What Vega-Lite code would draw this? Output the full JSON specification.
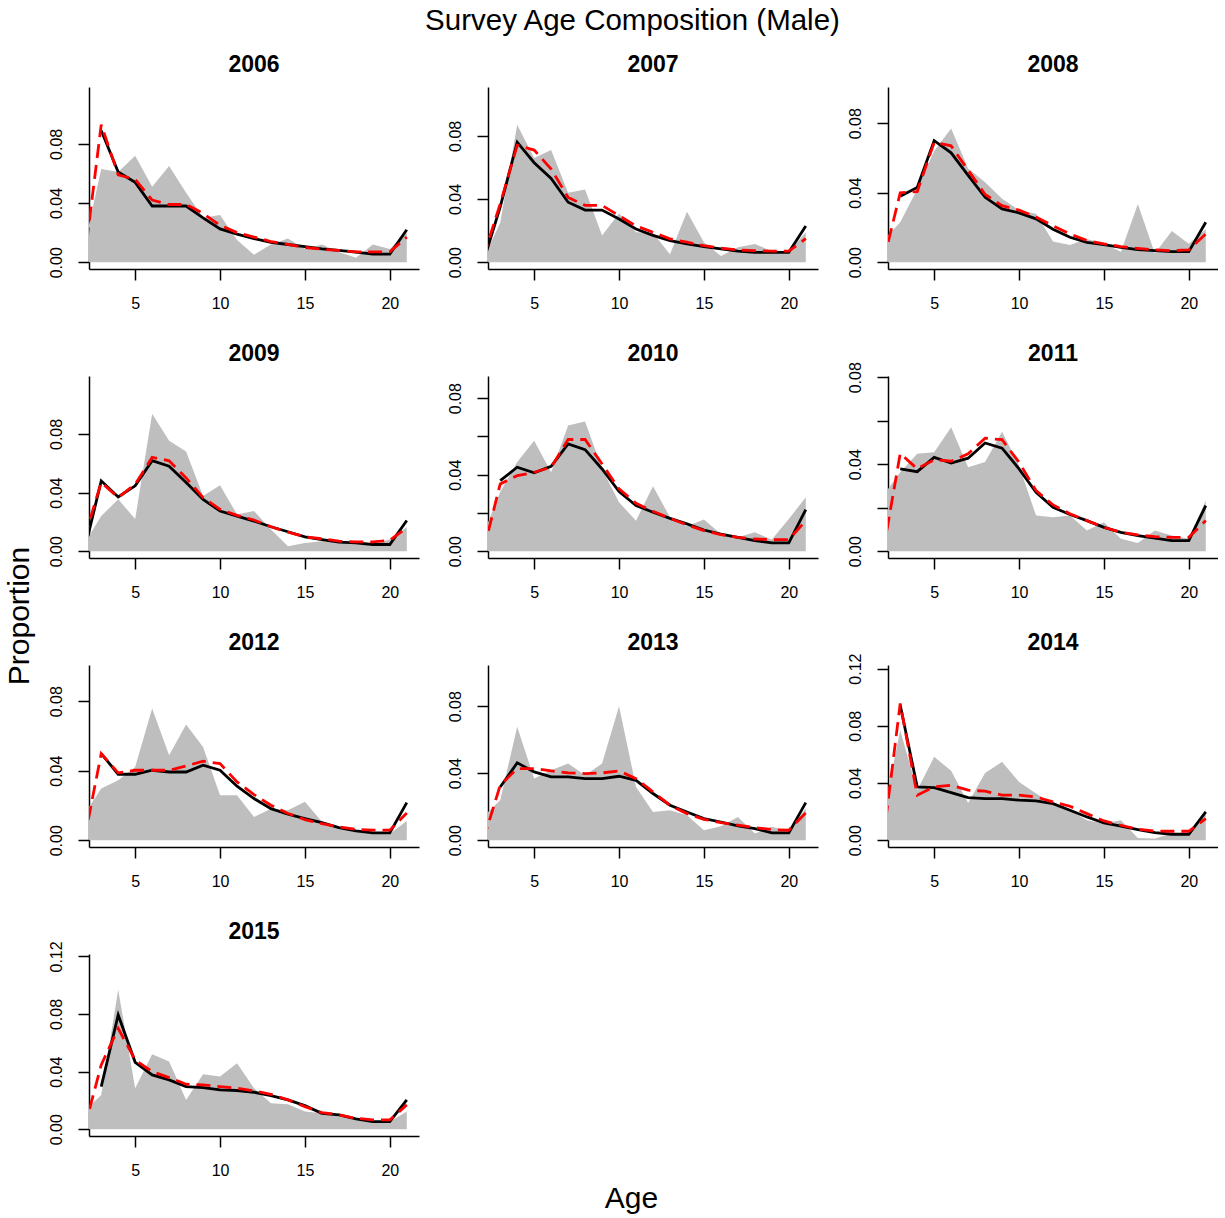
{
  "$schema": "https://vega.github.io/schema/vega-lite/v6.json",
  "background": "white",
  "padding": {"left": 5, "top": 5, "right": 0, "bottom": 0},
  "title": {"text": "Survey Age Composition (Male)", "fontSize": 29.5, "fontWeight": "normal", "font": "Liberation Sans", "color": "black", "anchor": "middle", "offset": 18, "dx": 21},
  "datasets": {
    "comp": [
      {"year": 2006, "age": 2, "obs": 0.011, "pred": null, "alt": 0.0},
      {"year": 2006, "age": 3, "obs": 0.063, "pred": 0.089, "alt": 0.093},
      {"year": 2006, "age": 4, "obs": 0.061, "pred": 0.061, "alt": 0.059},
      {"year": 2006, "age": 5, "obs": 0.072, "pred": 0.054, "alt": 0.056},
      {"year": 2006, "age": 6, "obs": 0.051, "pred": 0.038, "alt": 0.042},
      {"year": 2006, "age": 7, "obs": 0.065, "pred": 0.038, "alt": 0.039},
      {"year": 2006, "age": 8, "obs": 0.047, "pred": 0.038, "alt": 0.039},
      {"year": 2006, "age": 9, "obs": 0.030, "pred": 0.030, "alt": 0.033},
      {"year": 2006, "age": 10, "obs": 0.032, "pred": 0.0225, "alt": 0.025},
      {"year": 2006, "age": 11, "obs": 0.015, "pred": 0.019, "alt": 0.020},
      {"year": 2006, "age": 12, "obs": 0.005, "pred": 0.016, "alt": 0.017},
      {"year": 2006, "age": 13, "obs": 0.012, "pred": 0.0135, "alt": 0.014},
      {"year": 2006, "age": 14, "obs": 0.016, "pred": 0.012, "alt": 0.012},
      {"year": 2006, "age": 15, "obs": 0.009, "pred": 0.0105, "alt": 0.010},
      {"year": 2006, "age": 16, "obs": 0.012, "pred": 0.009, "alt": 0.0088},
      {"year": 2006, "age": 17, "obs": 0.007, "pred": 0.008, "alt": 0.008},
      {"year": 2006, "age": 18, "obs": 0.003, "pred": 0.0068, "alt": 0.007},
      {"year": 2006, "age": 19, "obs": 0.012, "pred": 0.0055, "alt": 0.007},
      {"year": 2006, "age": 20, "obs": 0.009, "pred": 0.0055, "alt": 0.007},
      {"year": 2006, "age": 21, "obs": 0.020, "pred": 0.022, "alt": 0.017},

      {"year": 2007, "age": 2, "obs": 0.002, "pred": 0.0, "alt": 0.003},
      {"year": 2007, "age": 3, "obs": 0.025, "pred": 0.035, "alt": 0.037},
      {"year": 2007, "age": 4, "obs": 0.087, "pred": 0.076, "alt": 0.074},
      {"year": 2007, "age": 5, "obs": 0.066, "pred": 0.063, "alt": 0.071},
      {"year": 2007, "age": 6, "obs": 0.071, "pred": 0.053, "alt": 0.059},
      {"year": 2007, "age": 7, "obs": 0.044, "pred": 0.038, "alt": 0.041},
      {"year": 2007, "age": 8, "obs": 0.046, "pred": 0.033, "alt": 0.036},
      {"year": 2007, "age": 9, "obs": 0.017, "pred": 0.033, "alt": 0.036},
      {"year": 2007, "age": 10, "obs": 0.031, "pred": 0.0274, "alt": 0.0295},
      {"year": 2007, "age": 11, "obs": 0.019, "pred": 0.021, "alt": 0.023},
      {"year": 2007, "age": 12, "obs": 0.0185, "pred": 0.017, "alt": 0.019},
      {"year": 2007, "age": 13, "obs": 0.005, "pred": 0.0137, "alt": 0.0148},
      {"year": 2007, "age": 14, "obs": 0.032, "pred": 0.0116, "alt": 0.0127},
      {"year": 2007, "age": 15, "obs": 0.0127, "pred": 0.0099, "alt": 0.0105},
      {"year": 2007, "age": 16, "obs": 0.004, "pred": 0.0084, "alt": 0.0089},
      {"year": 2007, "age": 17, "obs": 0.0095, "pred": 0.007, "alt": 0.0078},
      {"year": 2007, "age": 18, "obs": 0.0116, "pred": 0.0063, "alt": 0.0074},
      {"year": 2007, "age": 19, "obs": 0.007, "pred": 0.0063, "alt": 0.007},
      {"year": 2007, "age": 20, "obs": 0.0063, "pred": 0.0063, "alt": 0.007},
      {"year": 2007, "age": 21, "obs": 0.019, "pred": 0.023, "alt": 0.015},

      {"year": 2008, "age": 2, "obs": 0.0125, "pred": null, "alt": 0.0},
      {"year": 2008, "age": 3, "obs": 0.023, "pred": 0.038, "alt": 0.040},
      {"year": 2008, "age": 4, "obs": 0.042, "pred": 0.043, "alt": 0.0407},
      {"year": 2008, "age": 5, "obs": 0.064, "pred": 0.070, "alt": 0.069},
      {"year": 2008, "age": 6, "obs": 0.077, "pred": 0.063, "alt": 0.067},
      {"year": 2008, "age": 7, "obs": 0.054, "pred": 0.050, "alt": 0.053},
      {"year": 2008, "age": 8, "obs": 0.046, "pred": 0.0374, "alt": 0.039},
      {"year": 2008, "age": 9, "obs": 0.0365, "pred": 0.0307, "alt": 0.0326},
      {"year": 2008, "age": 10, "obs": 0.030, "pred": 0.0284, "alt": 0.030},
      {"year": 2008, "age": 11, "obs": 0.028, "pred": 0.025, "alt": 0.026},
      {"year": 2008, "age": 12, "obs": 0.012, "pred": 0.019, "alt": 0.021},
      {"year": 2008, "age": 13, "obs": 0.010, "pred": 0.0144, "alt": 0.0163},
      {"year": 2008, "age": 14, "obs": 0.0134, "pred": 0.0115, "alt": 0.0125},
      {"year": 2008, "age": 15, "obs": 0.0106, "pred": 0.0102, "alt": 0.0106},
      {"year": 2008, "age": 16, "obs": 0.006, "pred": 0.0086, "alt": 0.009},
      {"year": 2008, "age": 17, "obs": 0.0336, "pred": 0.0073, "alt": 0.008},
      {"year": 2008, "age": 18, "obs": 0.005, "pred": 0.0067, "alt": 0.0071},
      {"year": 2008, "age": 19, "obs": 0.018, "pred": 0.0061, "alt": 0.0067},
      {"year": 2008, "age": 20, "obs": 0.0106, "pred": 0.0061, "alt": 0.0071},
      {"year": 2008, "age": 21, "obs": 0.019, "pred": 0.023, "alt": 0.0163},

      {"year": 2009, "age": 2, "obs": 0.005, "pred": 0.0, "alt": 0.0086},
      {"year": 2009, "age": 3, "obs": 0.024, "pred": 0.048, "alt": 0.047},
      {"year": 2009, "age": 4, "obs": 0.0354, "pred": 0.037, "alt": 0.0366},
      {"year": 2009, "age": 5, "obs": 0.022, "pred": 0.0446, "alt": 0.0457},
      {"year": 2009, "age": 6, "obs": 0.0937, "pred": 0.0617, "alt": 0.064},
      {"year": 2009, "age": 7, "obs": 0.0754, "pred": 0.058, "alt": 0.0617},
      {"year": 2009, "age": 8, "obs": 0.068, "pred": 0.0469, "alt": 0.050},
      {"year": 2009, "age": 9, "obs": 0.0377, "pred": 0.0354, "alt": 0.0366},
      {"year": 2009, "age": 10, "obs": 0.045, "pred": 0.0274, "alt": 0.0286},
      {"year": 2009, "age": 11, "obs": 0.025, "pred": 0.024, "alt": 0.0245},
      {"year": 2009, "age": 12, "obs": 0.0274, "pred": 0.0206, "alt": 0.0213},
      {"year": 2009, "age": 13, "obs": 0.0149, "pred": 0.0167, "alt": 0.0167},
      {"year": 2009, "age": 14, "obs": 0.0034, "pred": 0.0133, "alt": 0.013},
      {"year": 2009, "age": 15, "obs": 0.0057, "pred": 0.0098, "alt": 0.0098},
      {"year": 2009, "age": 16, "obs": 0.0069, "pred": 0.008, "alt": 0.0085},
      {"year": 2009, "age": 17, "obs": 0.006, "pred": 0.0062, "alt": 0.0069},
      {"year": 2009, "age": 18, "obs": 0.0069, "pred": 0.0057, "alt": 0.0064},
      {"year": 2009, "age": 19, "obs": 0.0046, "pred": 0.0046, "alt": 0.0064},
      {"year": 2009, "age": 20, "obs": 0.008, "pred": 0.0046, "alt": 0.0075},
      {"year": 2009, "age": 21, "obs": 0.0165, "pred": 0.021, "alt": 0.016},

      {"year": 2010, "age": 2, "obs": 0.0088, "pred": null, "alt": 0.0},
      {"year": 2010, "age": 3, "obs": 0.031, "pred": 0.0369, "alt": 0.0352},
      {"year": 2010, "age": 4, "obs": 0.0467, "pred": 0.0439, "alt": 0.0395},
      {"year": 2010, "age": 5, "obs": 0.0578, "pred": 0.041, "alt": 0.0413},
      {"year": 2010, "age": 6, "obs": 0.0413, "pred": 0.0444, "alt": 0.0439},
      {"year": 2010, "age": 7, "obs": 0.0657, "pred": 0.0561, "alt": 0.0584},
      {"year": 2010, "age": 8, "obs": 0.0678, "pred": 0.0531, "alt": 0.0584},
      {"year": 2010, "age": 9, "obs": 0.043, "pred": 0.043, "alt": 0.0456},
      {"year": 2010, "age": 10, "obs": 0.0256, "pred": 0.0312, "alt": 0.0326},
      {"year": 2010, "age": 11, "obs": 0.016, "pred": 0.0239, "alt": 0.0251},
      {"year": 2010, "age": 12, "obs": 0.034, "pred": 0.0204, "alt": 0.0209},
      {"year": 2010, "age": 13, "obs": 0.0178, "pred": 0.0172, "alt": 0.0172},
      {"year": 2010, "age": 14, "obs": 0.0131, "pred": 0.0143, "alt": 0.0138},
      {"year": 2010, "age": 15, "obs": 0.0166, "pred": 0.0111, "alt": 0.0108},
      {"year": 2010, "age": 16, "obs": 0.009, "pred": 0.009, "alt": 0.0087},
      {"year": 2010, "age": 17, "obs": 0.0073, "pred": 0.0073, "alt": 0.0073},
      {"year": 2010, "age": 18, "obs": 0.0099, "pred": 0.0056, "alt": 0.0064},
      {"year": 2010, "age": 19, "obs": 0.0061, "pred": 0.0044, "alt": 0.0061},
      {"year": 2010, "age": 20, "obs": 0.0169, "pred": 0.0044, "alt": 0.0061},
      {"year": 2010, "age": 21, "obs": 0.0282, "pred": 0.0218, "alt": 0.016},

      {"year": 2011, "age": 2, "obs": 0.0257, "pred": null, "alt": 0.0},
      {"year": 2011, "age": 3, "obs": 0.0363, "pred": 0.0379, "alt": 0.045},
      {"year": 2011, "age": 4, "obs": 0.0448, "pred": 0.0366, "alt": 0.0379},
      {"year": 2011, "age": 5, "obs": 0.0455, "pred": 0.0432, "alt": 0.0421},
      {"year": 2011, "age": 6, "obs": 0.057, "pred": 0.0406, "alt": 0.0414},
      {"year": 2011, "age": 7, "obs": 0.0386, "pred": 0.0428, "alt": 0.0448},
      {"year": 2011, "age": 8, "obs": 0.041, "pred": 0.0498, "alt": 0.052},
      {"year": 2011, "age": 9, "obs": 0.055, "pred": 0.0474, "alt": 0.0513},
      {"year": 2011, "age": 10, "obs": 0.0394, "pred": 0.0379, "alt": 0.0409},
      {"year": 2011, "age": 11, "obs": 0.0164, "pred": 0.0271, "alt": 0.0279},
      {"year": 2011, "age": 12, "obs": 0.0156, "pred": 0.0202, "alt": 0.0213},
      {"year": 2011, "age": 13, "obs": 0.0164, "pred": 0.0169, "alt": 0.0172},
      {"year": 2011, "age": 14, "obs": 0.0095, "pred": 0.0141, "alt": 0.0141},
      {"year": 2011, "age": 15, "obs": 0.0133, "pred": 0.011, "alt": 0.011},
      {"year": 2011, "age": 16, "obs": 0.0057, "pred": 0.0087, "alt": 0.0087},
      {"year": 2011, "age": 17, "obs": 0.0038, "pred": 0.0072, "alt": 0.0075},
      {"year": 2011, "age": 18, "obs": 0.0095, "pred": 0.006, "alt": 0.0067},
      {"year": 2011, "age": 19, "obs": 0.0072, "pred": 0.0049, "alt": 0.0064},
      {"year": 2011, "age": 20, "obs": 0.0057, "pred": 0.0049, "alt": 0.0064},
      {"year": 2011, "age": 21, "obs": 0.0233, "pred": 0.021, "alt": 0.0141},

      {"year": 2012, "age": 2, "obs": 0.0151, "pred": null, "alt": 0.0},
      {"year": 2012, "age": 3, "obs": 0.0298, "pred": 0.0499, "alt": 0.0499},
      {"year": 2012, "age": 4, "obs": 0.0345, "pred": 0.038, "alt": 0.0388},
      {"year": 2012, "age": 5, "obs": 0.0422, "pred": 0.038, "alt": 0.0403},
      {"year": 2012, "age": 6, "obs": 0.0758, "pred": 0.0403, "alt": 0.0403},
      {"year": 2012, "age": 7, "obs": 0.0489, "pred": 0.0393, "alt": 0.0403},
      {"year": 2012, "age": 8, "obs": 0.0666, "pred": 0.0393, "alt": 0.0428},
      {"year": 2012, "age": 9, "obs": 0.0537, "pred": 0.0432, "alt": 0.0455},
      {"year": 2012, "age": 10, "obs": 0.0259, "pred": 0.0403, "alt": 0.0441},
      {"year": 2012, "age": 11, "obs": 0.0259, "pred": 0.0311, "alt": 0.0336},
      {"year": 2012, "age": 12, "obs": 0.0134, "pred": 0.024, "alt": 0.0263},
      {"year": 2012, "age": 13, "obs": 0.0182, "pred": 0.0182, "alt": 0.0202},
      {"year": 2012, "age": 14, "obs": 0.0173, "pred": 0.015, "alt": 0.0154},
      {"year": 2012, "age": 15, "obs": 0.0221, "pred": 0.0125, "alt": 0.0119},
      {"year": 2012, "age": 16, "obs": 0.0106, "pred": 0.0102, "alt": 0.0096},
      {"year": 2012, "age": 17, "obs": 0.0073, "pred": 0.0073, "alt": 0.0077},
      {"year": 2012, "age": 18, "obs": 0.0058, "pred": 0.0054, "alt": 0.0063},
      {"year": 2012, "age": 19, "obs": 0.0038, "pred": 0.0042, "alt": 0.0058},
      {"year": 2012, "age": 20, "obs": 0.0038, "pred": 0.0042, "alt": 0.0058},
      {"year": 2012, "age": 21, "obs": 0.0111, "pred": 0.0217, "alt": 0.0157},

      {"year": 2013, "age": 2, "obs": 0.0142, "pred": null, "alt": 0.0},
      {"year": 2013, "age": 3, "obs": 0.0239, "pred": 0.0318, "alt": 0.0328},
      {"year": 2013, "age": 4, "obs": 0.0677, "pred": 0.0462, "alt": 0.0428},
      {"year": 2013, "age": 5, "obs": 0.0368, "pred": 0.0408, "alt": 0.0428},
      {"year": 2013, "age": 6, "obs": 0.0418, "pred": 0.0378, "alt": 0.0414},
      {"year": 2013, "age": 7, "obs": 0.0458, "pred": 0.0378, "alt": 0.0402},
      {"year": 2013, "age": 8, "obs": 0.0388, "pred": 0.0368, "alt": 0.0398},
      {"year": 2013, "age": 9, "obs": 0.0458, "pred": 0.0368, "alt": 0.0402},
      {"year": 2013, "age": 10, "obs": 0.080, "pred": 0.0382, "alt": 0.0414},
      {"year": 2013, "age": 11, "obs": 0.0318, "pred": 0.0358, "alt": 0.0368},
      {"year": 2013, "age": 12, "obs": 0.0169, "pred": 0.0279, "alt": 0.0289},
      {"year": 2013, "age": 13, "obs": 0.0179, "pred": 0.0209, "alt": 0.0209},
      {"year": 2013, "age": 14, "obs": 0.0149, "pred": 0.0169, "alt": 0.0159},
      {"year": 2013, "age": 15, "obs": 0.006, "pred": 0.0129, "alt": 0.0125},
      {"year": 2013, "age": 16, "obs": 0.0084, "pred": 0.0109, "alt": 0.0105},
      {"year": 2013, "age": 17, "obs": 0.0139, "pred": 0.0086, "alt": 0.009},
      {"year": 2013, "age": 18, "obs": 0.004, "pred": 0.007, "alt": 0.0076},
      {"year": 2013, "age": 19, "obs": 0.008, "pred": 0.0044, "alt": 0.0064},
      {"year": 2013, "age": 20, "obs": 0.0056, "pred": 0.0044, "alt": 0.006},
      {"year": 2013, "age": 21, "obs": 0.0189, "pred": 0.0225, "alt": 0.0163},

      {"year": 2014, "age": 2, "obs": 0.0187, "pred": null, "alt": 0.0},
      {"year": 2014, "age": 3, "obs": 0.0769, "pred": 0.0944, "alt": 0.0956},
      {"year": 2014, "age": 4, "obs": 0.035, "pred": 0.0373, "alt": 0.0315},
      {"year": 2014, "age": 5, "obs": 0.0583, "pred": 0.0368, "alt": 0.0373},
      {"year": 2014, "age": 6, "obs": 0.0485, "pred": 0.0333, "alt": 0.0385},
      {"year": 2014, "age": 7, "obs": 0.0261, "pred": 0.0298, "alt": 0.035},
      {"year": 2014, "age": 8, "obs": 0.0471, "pred": 0.0291, "alt": 0.0343},
      {"year": 2014, "age": 9, "obs": 0.0548, "pred": 0.0291, "alt": 0.0315},
      {"year": 2014, "age": 10, "obs": 0.0408, "pred": 0.028, "alt": 0.0315},
      {"year": 2014, "age": 11, "obs": 0.0326, "pred": 0.0275, "alt": 0.0303},
      {"year": 2014, "age": 12, "obs": 0.0256, "pred": 0.0256, "alt": 0.0268},
      {"year": 2014, "age": 13, "obs": 0.021, "pred": 0.021, "alt": 0.0238},
      {"year": 2014, "age": 14, "obs": 0.014, "pred": 0.0163, "alt": 0.0186},
      {"year": 2014, "age": 15, "obs": 0.0117, "pred": 0.0121, "alt": 0.0135},
      {"year": 2014, "age": 16, "obs": 0.014, "pred": 0.0098, "alt": 0.0105},
      {"year": 2014, "age": 17, "obs": 0.0016, "pred": 0.0075, "alt": 0.0077},
      {"year": 2014, "age": 18, "obs": 0.0012, "pred": 0.0054, "alt": 0.0065},
      {"year": 2014, "age": 19, "obs": 0.0047, "pred": 0.0042, "alt": 0.0063},
      {"year": 2014, "age": 20, "obs": 0.0047, "pred": 0.0042, "alt": 0.0063},
      {"year": 2014, "age": 21, "obs": 0.0214, "pred": 0.0198, "alt": 0.0152},

      {"year": 2015, "age": 2, "obs": 0.0125, "pred": null, "alt": 0.0},
      {"year": 2015, "age": 3, "obs": 0.0238, "pred": 0.0296, "alt": 0.0447},
      {"year": 2015, "age": 4, "obs": 0.0968, "pred": 0.0794, "alt": 0.0701},
      {"year": 2015, "age": 5, "obs": 0.0285, "pred": 0.0465, "alt": 0.0481},
      {"year": 2015, "age": 6, "obs": 0.0521, "pred": 0.0377, "alt": 0.040},
      {"year": 2015, "age": 7, "obs": 0.047, "pred": 0.0343, "alt": 0.0359},
      {"year": 2015, "age": 8, "obs": 0.0204, "pred": 0.0296, "alt": 0.0313},
      {"year": 2015, "age": 9, "obs": 0.0382, "pred": 0.0289, "alt": 0.0308},
      {"year": 2015, "age": 10, "obs": 0.0366, "pred": 0.0273, "alt": 0.0296},
      {"year": 2015, "age": 11, "obs": 0.0458, "pred": 0.0269, "alt": 0.0285},
      {"year": 2015, "age": 12, "obs": 0.0285, "pred": 0.0257, "alt": 0.0266},
      {"year": 2015, "age": 13, "obs": 0.018, "pred": 0.0234, "alt": 0.0243},
      {"year": 2015, "age": 14, "obs": 0.0174, "pred": 0.0204, "alt": 0.0204},
      {"year": 2015, "age": 15, "obs": 0.0123, "pred": 0.0164, "alt": 0.0157},
      {"year": 2015, "age": 16, "obs": 0.0111, "pred": 0.0111, "alt": 0.0116},
      {"year": 2015, "age": 17, "obs": 0.0088, "pred": 0.01, "alt": 0.01},
      {"year": 2015, "age": 18, "obs": 0.0065, "pred": 0.0072, "alt": 0.0076},
      {"year": 2015, "age": 19, "obs": 0.0058, "pred": 0.0053, "alt": 0.0065},
      {"year": 2015, "age": 20, "obs": 0.0053, "pred": 0.0053, "alt": 0.0065},
      {"year": 2015, "age": 21, "obs": 0.0123, "pred": 0.0204, "alt": 0.0169}
    ]
  },
  "data": {"name": "comp"},
  "vconcat": [
    {
      "title": {"text": "Age", "orient": "bottom", "fontSize": 30, "fontWeight": "normal", "anchor": "middle", "offset": 6, "dx": 20},
      "vconcat": [
        {
          "title": {"text": "Proportion", "orient": "left", "fontSize": 30, "fontWeight": "normal", "anchor": "middle", "offset": 13},
          "columns": 3,
          "spacing": {"column": 28, "row": 32},
          "concat": [
            {
              "title": {"text": "2006"}, "width": 330, "height": 182,
              "transform": [{"filter": "datum.year == 2006"}],
              "encoding": {"x": {"field": "age", "type": "quantitative", "scale": {"domain": [2.28, 21.72], "nice": false, "zero": false}, "axis": {"values": [5, 10, 15, 20]}}},
              "layer": [
                {"mark": {"type": "area", "color": "#bebebe", "clip": true}, "encoding": {"y": {"field": "obs", "type": "quantitative", "scale": {"domain": [-0.00456, 0.1184], "nice": false, "zero": false}, "axis": {"values": [0, 0.02, 0.04, 0.06, 0.08, 0.1]}}}},
                {"mark": {"type": "line", "color": "black", "strokeWidth": 2.8, "clip": true}, "encoding": {"y": {"field": "pred", "type": "quantitative"}}},
                {"mark": {"type": "line", "color": "#ff0000", "strokeWidth": 2.8, "strokeDash": [14, 7], "clip": true}, "encoding": {"y": {"field": "alt", "type": "quantitative"}}}
              ]
            },
            {
              "title": {"text": "2007"}, "width": 330, "height": 182,
              "transform": [{"filter": "datum.year == 2007"}],
              "encoding": {"x": {"field": "age", "type": "quantitative", "scale": {"domain": [2.28, 21.72], "nice": false, "zero": false}, "axis": {"values": [5, 10, 15, 20]}}},
              "layer": [
                {"mark": {"type": "area", "color": "#bebebe", "clip": true}, "encoding": {"y": {"field": "obs", "type": "quantitative", "scale": {"domain": [-0.00427, 0.1109], "nice": false, "zero": false}, "axis": {"values": [0, 0.02, 0.04, 0.06, 0.08, 0.1]}}}},
                {"mark": {"type": "line", "color": "black", "strokeWidth": 2.8, "clip": true}, "encoding": {"y": {"field": "pred", "type": "quantitative"}}},
                {"mark": {"type": "line", "color": "#ff0000", "strokeWidth": 2.8, "strokeDash": [14, 7], "clip": true}, "encoding": {"y": {"field": "alt", "type": "quantitative"}}}
              ]
            },
            {
              "title": {"text": "2008"}, "width": 330, "height": 182,
              "transform": [{"filter": "datum.year == 2008"}],
              "encoding": {"x": {"field": "age", "type": "quantitative", "scale": {"domain": [2.28, 21.72], "nice": false, "zero": false}, "axis": {"values": [5, 10, 15, 20]}}},
              "layer": [
                {"mark": {"type": "area", "color": "#bebebe", "clip": true}, "encoding": {"y": {"field": "obs", "type": "quantitative", "scale": {"domain": [-0.00388, 0.1009], "nice": false, "zero": false}, "axis": {"values": [0, 0.02, 0.04, 0.06, 0.08, 0.1]}}}},
                {"mark": {"type": "line", "color": "black", "strokeWidth": 2.8, "clip": true}, "encoding": {"y": {"field": "pred", "type": "quantitative"}}},
                {"mark": {"type": "line", "color": "#ff0000", "strokeWidth": 2.8, "strokeDash": [14, 7], "clip": true}, "encoding": {"y": {"field": "alt", "type": "quantitative"}}}
              ]
            },
            {
              "title": {"text": "2009"}, "width": 330, "height": 182,
              "transform": [{"filter": "datum.year == 2009"}],
              "encoding": {"x": {"field": "age", "type": "quantitative", "scale": {"domain": [2.28, 21.72], "nice": false, "zero": false}, "axis": {"values": [5, 10, 15, 20]}}},
              "layer": [
                {"mark": {"type": "area", "color": "#bebebe", "clip": true}, "encoding": {"y": {"field": "obs", "type": "quantitative", "scale": {"domain": [-0.0046, 0.1195], "nice": false, "zero": false}, "axis": {"values": [0, 0.02, 0.04, 0.06, 0.08, 0.1]}}}},
                {"mark": {"type": "line", "color": "black", "strokeWidth": 2.8, "clip": true}, "encoding": {"y": {"field": "pred", "type": "quantitative"}}},
                {"mark": {"type": "line", "color": "#ff0000", "strokeWidth": 2.8, "strokeDash": [14, 7], "clip": true}, "encoding": {"y": {"field": "alt", "type": "quantitative"}}}
              ]
            },
            {
              "title": {"text": "2010"}, "width": 330, "height": 182,
              "transform": [{"filter": "datum.year == 2010"}],
              "encoding": {"x": {"field": "age", "type": "quantitative", "scale": {"domain": [2.28, 21.72], "nice": false, "zero": false}, "axis": {"values": [5, 10, 15, 20]}}},
              "layer": [
                {"mark": {"type": "area", "color": "#bebebe", "clip": true}, "encoding": {"y": {"field": "obs", "type": "quantitative", "scale": {"domain": [-0.00352, 0.0916], "nice": false, "zero": false}, "axis": {"values": [0, 0.02, 0.04, 0.06, 0.08]}}}},
                {"mark": {"type": "line", "color": "black", "strokeWidth": 2.8, "clip": true}, "encoding": {"y": {"field": "pred", "type": "quantitative"}}},
                {"mark": {"type": "line", "color": "#ff0000", "strokeWidth": 2.8, "strokeDash": [14, 7], "clip": true}, "encoding": {"y": {"field": "alt", "type": "quantitative"}}}
              ]
            },
            {
              "title": {"text": "2011", "offset": -4.3}, "width": 330, "height": 182,
              "transform": [{"filter": "datum.year == 2011"}],
              "encoding": {"x": {"field": "age", "type": "quantitative", "scale": {"domain": [2.28, 21.72], "nice": false, "zero": false}, "axis": {"values": [5, 10, 15, 20]}}},
              "layer": [
                {"mark": {"type": "area", "color": "#bebebe", "clip": true}, "encoding": {"y": {"field": "obs", "type": "quantitative", "scale": {"domain": [-0.0031, 0.0806], "nice": false, "zero": false}, "axis": {"values": [0, 0.02, 0.04, 0.06, 0.08]}}}},
                {"mark": {"type": "line", "color": "black", "strokeWidth": 2.8, "clip": true}, "encoding": {"y": {"field": "pred", "type": "quantitative"}}},
                {"mark": {"type": "line", "color": "#ff0000", "strokeWidth": 2.8, "strokeDash": [14, 7], "clip": true}, "encoding": {"y": {"field": "alt", "type": "quantitative"}}}
              ]
            },
            {
              "title": {"text": "2012"}, "width": 330, "height": 182,
              "transform": [{"filter": "datum.year == 2012"}],
              "encoding": {"x": {"field": "age", "type": "quantitative", "scale": {"domain": [2.28, 21.72], "nice": false, "zero": false}, "axis": {"values": [5, 10, 15, 20]}}},
              "layer": [
                {"mark": {"type": "area", "color": "#bebebe", "clip": true}, "encoding": {"y": {"field": "obs", "type": "quantitative", "scale": {"domain": [-0.00388, 0.1009], "nice": false, "zero": false}, "axis": {"values": [0, 0.02, 0.04, 0.06, 0.08, 0.1]}}}},
                {"mark": {"type": "line", "color": "black", "strokeWidth": 2.8, "clip": true}, "encoding": {"y": {"field": "pred", "type": "quantitative"}}},
                {"mark": {"type": "line", "color": "#ff0000", "strokeWidth": 2.8, "strokeDash": [14, 7], "clip": true}, "encoding": {"y": {"field": "alt", "type": "quantitative"}}}
              ]
            },
            {
              "title": {"text": "2013"}, "width": 330, "height": 182,
              "transform": [{"filter": "datum.year == 2013"}],
              "encoding": {"x": {"field": "age", "type": "quantitative", "scale": {"domain": [2.28, 21.72], "nice": false, "zero": false}, "axis": {"values": [5, 10, 15, 20]}}},
              "layer": [
                {"mark": {"type": "area", "color": "#bebebe", "clip": true}, "encoding": {"y": {"field": "obs", "type": "quantitative", "scale": {"domain": [-0.00402, 0.1046], "nice": false, "zero": false}, "axis": {"values": [0, 0.02, 0.04, 0.06, 0.08, 0.1]}}}},
                {"mark": {"type": "line", "color": "black", "strokeWidth": 2.8, "clip": true}, "encoding": {"y": {"field": "pred", "type": "quantitative"}}},
                {"mark": {"type": "line", "color": "#ff0000", "strokeWidth": 2.8, "strokeDash": [14, 7], "clip": true}, "encoding": {"y": {"field": "alt", "type": "quantitative"}}}
              ]
            },
            {
              "title": {"text": "2014", "offset": -2}, "width": 330, "height": 182,
              "transform": [{"filter": "datum.year == 2014"}],
              "encoding": {"x": {"field": "age", "type": "quantitative", "scale": {"domain": [2.28, 21.72], "nice": false, "zero": false}, "axis": {"values": [5, 10, 15, 20]}}},
              "layer": [
                {"mark": {"type": "area", "color": "#bebebe", "clip": true}, "encoding": {"y": {"field": "obs", "type": "quantitative", "scale": {"domain": [-0.00471, 0.1225], "nice": false, "zero": false}, "axis": {"values": [0, 0.02, 0.04, 0.06, 0.08, 0.1, 0.12]}}}},
                {"mark": {"type": "line", "color": "black", "strokeWidth": 2.8, "clip": true}, "encoding": {"y": {"field": "pred", "type": "quantitative"}}},
                {"mark": {"type": "line", "color": "#ff0000", "strokeWidth": 2.8, "strokeDash": [14, 7], "clip": true}, "encoding": {"y": {"field": "alt", "type": "quantitative"}}}
              ]
            },
            {
              "title": {"text": "2015", "offset": -3.2}, "width": 330, "height": 182,
              "transform": [{"filter": "datum.year == 2015"}],
              "encoding": {"x": {"field": "age", "type": "quantitative", "scale": {"domain": [2.28, 21.72], "nice": false, "zero": false}, "axis": {"values": [5, 10, 15, 20]}}},
              "layer": [
                {"mark": {"type": "area", "color": "#bebebe", "clip": true}, "encoding": {"y": {"field": "obs", "type": "quantitative", "scale": {"domain": [-0.00468, 0.1217], "nice": false, "zero": false}, "axis": {"values": [0, 0.02, 0.04, 0.06, 0.08, 0.1, 0.12]}}}},
                {"mark": {"type": "line", "color": "black", "strokeWidth": 2.8, "clip": true}, "encoding": {"y": {"field": "pred", "type": "quantitative"}}},
                {"mark": {"type": "line", "color": "#ff0000", "strokeWidth": 2.8, "strokeDash": [14, 7], "clip": true}, "encoding": {"y": {"field": "alt", "type": "quantitative"}}}
              ]
            }
          ]
        }
      ]
    }
  ],
  "config": {
    "font": "Liberation Sans",
    "view": {"stroke": null},
    "axis": {
      "title": null, "grid": false,
      "domainColor": "black", "domainWidth": 1.5,
      "tickColor": "black", "tickWidth": 1.5, "tickSize": 11,
      "labelFont": "Liberation Sans", "labelFontSize": 16, "labelColor": "black",
      "labelOverlap": false
    },
    "axisX": {"labelPadding": 15, "labelFlush": false},
    "axisY": {
      "labelAngle": -90, "labelAlign": "center", "labelBaseline": "bottom", "labelPadding": 14,
      "labelExpr": "round(datum.value * 100) % 4 == 0 ? format(datum.value, '.2f') : ''"
    },
    "title": {"font": "Liberation Sans", "fontSize": 23, "fontWeight": "bold", "color": "black", "offset": 10, "anchor": "middle"}
  }
}
